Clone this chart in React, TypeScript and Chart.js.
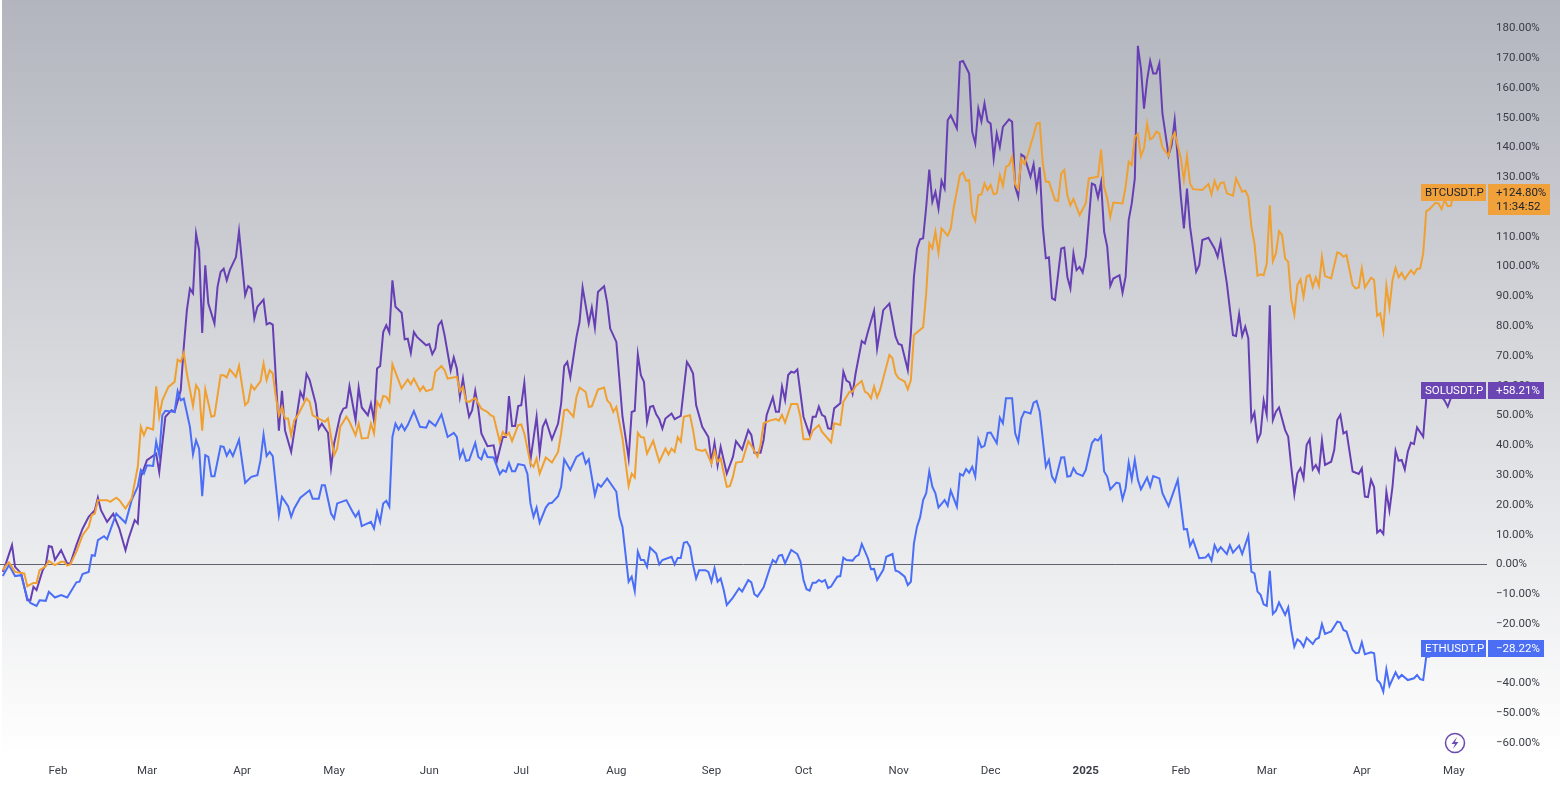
import { useEffect, useRef } from "react";
import { Chart, registerables } from "chart.js";

Chart.register(...registerables);

// days since the first candle (mid Jan 2024), percent change
const solPoints = [[0,-2.5],[1,0.3],[3,6.5],[4,-0.8],[6,-3],[7,-7.5],[8,-12],[9,-12],[10,-7.5],[11,-8.6],[13,-1.9],[14,-0.2],[15,6.2],[16,5.9],[17,1.5],[19,4.8],[21,0.3],[22,0.3],[24,6.5],[26,12],[27,14],[28,16],[30,18.2],[31,22.4],[32,18.2],[34,14.3],[36,17],[38,12],[40,4.8],[41,8.7],[43,14.9],[44,13.8],[45,29.4],[47,35],[50,37.2],[51,31],[52,40.6],[53,49.6],[55,51.8],[56,51.2],[58,58.5],[59,73],[60,85.3],[61,92.6],[62,91],[63,111],[64,105.5],[65,77.7],[66,100.4],[67,87.6],[69,80.9],[70,93.2],[71,98.2],[72,99.3],[73,95.4],[74,98.8],[76,103.2],[77,111.9],[79,90.4],[80,93.4],[81,92.6],[82,82.6],[83,86.5],[85,88.9],[86,80.6],[87,81.1],[88,80.5],[90,44.9],[91,58.3],[92,45],[94,37.8],[97,57.9],[98,55.7],[99,64],[100,62],[102,54],[103,45.6],[104,47.3],[106,44.2],[107,32.5],[108,40.6],[110,50.1],[111,52.3],[112,52.7],[113,59.8],[115,48.4],[116,59.4],[117,52.7],[119,50.1],[120,54],[121,48.4],[122,65.8],[123,66.6],[124,78],[125,80.3],[126,77.9],[127,95.4],[128,86.5],[130,84.5],[131,75.6],[132,75.8],[133,71],[134,78],[135,76.4],[138,73.6],[139,74],[140,70.6],[141,72.5],[142,80.3],[143,81.7],[144,77],[146,65.2],[147,69.5],[148,65.8],[149,56.3],[150,62.4],[151,55.1],[152,49.6],[153,51.8],[154,58.2],[155,52.3],[156,44],[158,39.7],[160,40],[161,34.5],[163,42.8],[164,42.8],[165,56.5],[166,46.5],[167,46.5],[168,53.2],[169,53.5],[170,61],[172,35],[174,49.6],[175,37.5],[176,46.2],[177,48.4],[179,42],[181,47.3],[182,54],[183,66.6],[184,68],[185,62.8],[187,76.4],[188,81.4],[189,93],[191,80.9],[192,86.2],[193,79.5],[194,91.5],[196,93.4],[197,88],[198,79.2],[200,74.7],[202,49.6],[204,35.6],[205,51.2],[206,51.6],[207,70.5],[208,63.5],[209,61.3],[210,47.9],[211,52.9],[212,53.2],[213,50.4],[214,48.8],[215,45.6],[216,49],[218,50.7],[219,48.8],[221,49.9],[223,68],[224,66.3],[225,64.1],[226,53.5],[228,46.2],[230,42.8],[231,34.5],[232,40.8],[233,33.3],[234,39.5],[236,30.5],[238,36.1],[239,41.4],[241,38.6],[243,45.1],[244,43.5],[245,37.5],[247,37.5],[248,41.8],[249,50.2],[251,56.1],[252,51.3],[253,51.3],[254,59.7],[255,55.2],[256,63.6],[257,64.7],[258,64.4],[259,65.5],[261,49.6],[263,43.5],[264,49.6],[265,49.6],[266,53],[267,50.2],[268,49.6],[269,45.7],[270,45.5],[271,52.4],[273,54.1],[274,64.7],[275,61.7],[276,61.1],[277,57.4],[278,64.2],[280,75],[281,74.2],[282,78.1],[284,85.2],[285,72.5],[287,85.4],[289,87.6],[291,76.5],[292,74],[293,73.7],[295,65.3],[296,77.6],[297,96.6],[298,106.1],[299,109.2],[300,109.5],[301,120],[302,132.6],[303,121.8],[304,125.1],[305,119.5],[306,128.8],[307,126.2],[308,149.1],[309,150.8],[311,146.4],[312,168.7],[313,169],[315,164.8],[316,145.2],[317,141.3],[318,153],[319,148.8],[320,154.8],[321,148.8],[322,148],[323,136.3],[324,144.7],[325,140.2],[326,146.9],[328,149.4],[329,148.6],[330,126.8],[331,123.4],[332,137.6],[333,136.9],[335,130.2],[336,134.4],[337,126.2],[338,133.3],[339,113.4],[340,102.8],[341,103.1],[342,89.3],[343,88.8],[345,106.1],[346,106.4],[347,96.6],[348,92.7],[349,104.4],[350,98.8],[351,99.9],[352,98],[353,103.3],[355,127.9],[356,127.4],[357,123.2],[358,128.2],[359,111.7],[360,106.7],[361,93.5],[362,96],[364,97.1],[365,91.2],[366,96.6],[367,115.6],[368,121.2],[369,129.6],[370,174.1],[371,166.5],[372,153],[373,162.6],[374,169],[375,164.8],[376,164.8],[377,168.2],[378,151.4],[380,137.4],[381,140.8],[382,149.2],[384,123.4],[385,112.8],[386,126.2],[387,113.4],[389,98.3],[390,100.5],[391,108.9],[393,109.7],[395,106.1],[396,103.3],[397,108.3],[398,101],[399,94.4],[401,77],[402,76.7],[403,84],[404,76.7],[405,79.8],[406,75.9],[407,48.5],[408,51],[409,41.6],[410,44],[411,55],[412,50.2],[413,87],[414,48.5],[415,51.3],[416,52.7],[418,45.1],[419,42.9],[420,32.8],[421,23.6],[422,30.6],[423,32.3],[424,28.9],[425,40.1],[426,42],[427,31.9],[428,33.4],[429,31.2],[430,41.6],[431,33.4],[433,34.5],[434,38.4],[435,48.5],[436,50.2],[437,44],[438,44.6],[440,31.2],[442,30.4],[443,32.3],[444,22.8],[445,22.6],[446,28.4],[447,25.9],[448,10.7],[449,11.6],[450,10.2],[451,24.4],[452,18.1],[453,26.1],[454,38.2],[455,34.8],[456,35.1],[457,31.9],[458,37.9],[459,40.9],[460,40.4],[461,46],[463,42.9],[464,55.7],[465,57],[467,58],[468,57.4],[470,55],[471,53],[472,55.8],[473,58.21]];

const btcPoints = [[0,-1.9],[1,-0.4],[2,0.7],[4,-2.5],[7,-3],[8,-7.3],[10,-6.2],[11,-6.2],[12,-1.9],[14,-0.6],[15,1.2],[17,-0.2],[19,0.9],[20,0.9],[21,-0.4],[22,0],[24,4.3],[26,9.8],[28,12.6],[29,16.6],[30,17.1],[31,21.6],[34,21.6],[35,21],[37,22.4],[38,21.6],[40,18.8],[42,22.1],[44,32.8],[45,46.2],[46,43.4],[47,46],[49,45.3],[50,59.8],[51,49.6],[52,55.1],[54,59.6],[56,61.3],[57,68.8],[58,68],[59,71],[60,64.1],[62,53.2],[63,60.2],[64,58.5],[65,44.9],[66,58.8],[68,49.6],[69,49.9],[71,63.5],[72,63.5],[73,62.8],[74,65.5],[76,63],[77,66.7],[79,53.5],[80,54.6],[81,60.2],[82,58.7],[84,61.5],[85,67.5],[86,61.9],[87,65.2],[88,64.1],[89,56.3],[90,50.1],[91,52.9],[92,49],[93,49],[94,43.4],[95,48.4],[96,49.8],[97,51.8],[99,55.7],[100,54.6],[101,50.1],[103,49],[105,47.9],[106,49],[108,36.7],[109,38.9],[110,46.2],[112,49.6],[113,47.9],[115,43.4],[116,47.3],[117,42.3],[119,42.5],[120,47.3],[121,44],[122,54.6],[123,52.9],[124,56.6],[125,56.3],[126,54.6],[127,67.2],[130,59.1],[132,62.1],[133,60.5],[134,62.4],[136,58.3],[137,59.8],[138,58.2],[140,58.8],[141,64.7],[143,66.6],[144,65.2],[145,62.4],[146,62.6],[148,63],[149,58.2],[150,59.6],[151,54.8],[152,54.6],[154,55.9],[156,52.3],[158,51.2],[159,50.1],[160,49.6],[162,41.2],[163,44.5],[164,43.2],[165,44.2],[166,41.4],[168,46.8],[169,47],[170,44],[172,33.9],[173,32.8],[174,35.6],[175,30.5],[177,35.9],[179,34.2],[181,37.8],[182,44],[183,51.8],[184,52],[186,49.6],[187,56.3],[188,59.4],[190,57.9],[191,52.9],[192,53.1],[194,58.7],[196,59.4],[197,55.1],[198,54],[199,51.2],[200,52.9],[202,42.3],[204,26.3],[205,30.5],[206,29.2],[207,44.2],[208,42.8],[209,42.6],[210,37.2],[212,41.5],[214,34.5],[216,38.9],[217,36.9],[218,38.9],[219,37.8],[220,42.8],[221,41.2],[222,49.6],[224,50.1],[225,45.1],[226,38.7],[228,38.1],[229,38.6],[231,33.9],[232,38.1],[233,34.5],[234,35.6],[236,26.1],[237,26.3],[238,29.4],[239,34.2],[241,34.5],[243,41.4],[244,39.9],[246,36.2],[247,40.1],[248,47.4],[250,48.3],[252,48.8],[253,48.3],[254,50.2],[255,47.6],[257,53.9],[259,53.9],[260,49.6],[261,42],[263,42],[264,44.9],[266,46.8],[267,44.6],[270,41],[271,47.4],[273,46.8],[274,54.6],[276,58],[277,58],[278,59.9],[280,61.6],[281,58],[282,57.4],[283,55.8],[284,59.7],[285,56.1],[286,58.6],[289,70.3],[290,69.2],[291,64.1],[292,62.5],[294,61.4],[295,58.8],[296,61.9],[297,77],[300,79.6],[301,91],[302,107.8],[303,106.1],[304,111.7],[305,104.6],[306,112.8],[308,110.4],[309,112.8],[310,120],[312,130.7],[313,131.6],[314,128.8],[315,129],[316,117.8],[317,115.4],[318,124],[319,124.2],[320,127.9],[321,125.7],[322,127.4],[323,124.3],[324,124.6],[325,130.7],[326,127.1],[327,133.5],[328,134.1],[329,136.9],[330,127.7],[331,126],[332,136.3],[333,134.4],[334,137.2],[336,144.1],[337,148],[338,148.3],[339,134.6],[340,128.5],[341,128.5],[343,122.3],[344,122],[345,131.3],[346,132.4],[347,124],[348,120.6],[349,122.7],[351,117.3],[353,121.2],[354,129.6],[357,130.2],[358,139.3],[359,126.8],[360,122.9],[361,116.7],[362,121.5],[365,121.2],[366,126.8],[367,135.2],[368,134.1],[369,143.6],[370,144.5],[371,137.1],[372,139.7],[373,148],[374,142.7],[375,143.4],[376,145.3],[377,144.7],[378,140],[380,137.1],[381,143],[382,144.9],[384,136.3],[385,129],[386,137.1],[387,127.9],[388,126],[391,125.7],[393,127.7],[394,124.2],[395,128.8],[396,125.9],[397,128.1],[398,128.3],[399,124.6],[401,123.8],[402,129.6],[404,125.1],[405,125.5],[406,123.4],[407,113.4],[408,107.8],[409,96.9],[410,97.4],[411,97.1],[412,101],[413,120.6],[414,101.8],[415,104.4],[416,111.9],[417,110.6],[418,102.7],[419,101.6],[420,88.8],[421,83.9],[422,93.8],[423,95.7],[424,89.9],[425,96.6],[426,97.2],[427,93.2],[428,96.4],[429,93.5],[430,103.3],[431,96.8],[433,96],[435,104.8],[436,104.4],[437,103.3],[438,103.9],[440,93.8],[441,92.7],[442,93],[443,99.4],[444,93],[446,96.3],[447,95.5],[448,83.5],[449,84.3],[450,78.5],[451,93.5],[452,86.2],[453,95.5],[454,99.6],[455,96.4],[456,97.9],[457,95.8],[459,98.8],[460,97.5],[461,99.2],[462,99.4],[463,104.4],[464,118.6],[465,119.2],[467,121.4],[468,121.2],[469,119.3],[470,122.3],[471,120.3],[472,120.4],[473,124.8]];

const ethPoints = [[0,-3.9],[2,-0.2],[4,-3.9],[6,-3.6],[8,-11.4],[9,-12.9],[11,-13.9],[12,-12],[14,-12.2],[15,-9.2],[17,-11.1],[19,-10.3],[21,-11.1],[24,-6],[25,-5.8],[26,-3.2],[28,-2.5],[29,3.1],[30,2.9],[31,8.2],[33,9.5],[34,8.5],[37,17.1],[38,16],[40,14],[42,21.6],[44,26.1],[45,31.7],[46,30.5],[47,33.3],[49,33.1],[50,41.2],[51,36.7],[52,50.1],[53,51.6],[56,51.2],[57,58.2],[58,55.1],[59,55.7],[61,46.2],[62,37],[63,41.7],[64,38.9],[65,22.9],[66,36.7],[67,36.1],[68,29.6],[69,29.6],[71,39.7],[72,39.5],[73,36.5],[74,38.4],[75,36.4],[77,41.9],[79,27.4],[81,29.4],[83,30],[84,35],[85,43.6],[86,36.4],[87,37.8],[88,36.4],[90,16.6],[91,22.7],[93,19.6],[94,16],[95,18.8],[97,22.4],[100,24.9],[101,22.1],[103,22.1],[104,26.6],[105,26.6],[107,17.1],[108,15.4],[109,20.5],[112,21.6],[114,17.7],[115,16],[116,17.7],[117,12.9],[120,14.3],[121,12.1],[122,17.7],[123,14.3],[124,20.5],[125,21.4],[126,19.4],[127,42.8],[128,47.3],[129,45.3],[130,47],[131,45.1],[132,46.8],[134,51.5],[136,46.2],[138,45.9],[139,48.2],[141,46.5],[143,50.4],[145,42.8],[147,44.2],[148,42.8],[149,35.9],[150,38.4],[151,34.8],[152,35],[154,40.8],[155,36.1],[156,35.3],[157,38.4],[158,36.1],[160,35.9],[162,30.3],[163,31.7],[164,31.1],[165,34.1],[166,31.3],[167,31.3],[168,33.7],[170,33.3],[171,30.5],[172,20.5],[173,16],[174,19.1],[175,14],[177,19.1],[178,20.5],[179,20.7],[181,22.9],[182,26.1],[183,35.3],[185,31.7],[187,36.1],[189,37.5],[190,33.9],[191,35.3],[193,23.3],[194,27],[195,26.1],[197,28.9],[200,24.4],[201,16],[202,12.6],[204,-5.8],[205,-4.1],[206,-8.9],[207,4.3],[208,1.5],[209,1.5],[210,-0.8],[211,5.7],[213,3.7],[214,0],[215,1.5],[218,2.6],[219,0],[220,2.2],[221,2.2],[222,7.3],[223,7.6],[224,5.9],[225,-0.2],[226,-4.7],[227,-1.9],[229,-1.9],[230,-2.5],[231,-5.8],[232,-1.3],[233,-5.8],[234,-4.7],[235,-8.6],[236,-13.6],[238,-11.1],[240,-8],[241,-9.1],[243,-5.2],[244,-6],[245,-10],[246,-10.8],[248,-7.7],[250,-1.3],[251,1.5],[252,0.6],[253,3],[254,3.2],[255,0.4],[257,4.9],[259,3.5],[260,1],[261,-5.2],[262,-8.3],[263,-8.8],[264,-6.1],[265,-6.1],[266,-5.2],[267,-5.8],[268,-5.2],[269,-7.9],[270,-7.4],[272,-4.1],[273,-3.9],[274,2.3],[275,1.5],[277,1.3],[278,2.6],[279,3.2],[280,6.9],[282,2.1],[283,-1.6],[284,-1.5],[285,-5.2],[287,-1.8],[288,2.6],[290,3.5],[291,-2.1],[292,-2.4],[294,-4.1],[295,-6.9],[296,-5.8],[297,7.1],[298,12.7],[299,15.8],[300,21.6],[301,23.9],[302,31.2],[303,26.1],[304,23.9],[305,19.1],[307,21.6],[308,19.7],[309,24.8],[311,19.4],[312,30.4],[313,29.8],[314,32],[315,30.8],[316,32.8],[317,29.5],[318,42],[319,39.3],[320,39.8],[321,44.2],[322,44.3],[324,40.7],[325,49.3],[326,47.4],[327,55.8],[329,55.8],[330,44],[331,41.2],[332,49],[333,51.3],[335,50.7],[336,54.3],[337,54.9],[338,51.3],[340,32.8],[341,35.1],[342,29.5],[343,27.8],[345,35.9],[346,36],[347,29.5],[348,29.7],[349,32.3],[350,30.6],[352,29.7],[353,31.7],[355,40.7],[356,42.1],[357,41.6],[358,43.1],[359,31.2],[360,29.5],[361,25.2],[363,27.5],[364,27.2],[365,21.9],[366,25.6],[367,34.2],[368,28.6],[369,35.1],[370,28.4],[371,25.2],[373,29.2],[374,26.1],[375,29.7],[377,28.9],[378,23.9],[380,19.6],[383,28.4],[385,11.8],[386,11.9],[387,6.2],[388,8.2],[390,2.1],[392,2.3],[393,3.4],[394,1.3],[395,6.5],[396,4.3],[397,5.8],[399,3.5],[400,6.5],[401,4],[403,6.3],[404,3.5],[406,9.7],[407,-2.4],[408,-3],[409,-9.1],[410,-10.2],[411,-13.4],[412,-13.9],[413,-2.1],[414,-16.6],[415,-15.5],[416,-12.8],[418,-16.9],[419,-14.4],[420,-22],[421,-27.6],[422,-25.1],[423,-25.9],[424,-27.6],[425,-24.6],[427,-26.7],[428,-25.1],[429,-24.6],[430,-20],[431,-23.3],[433,-22.5],[435,-19.2],[436,-19.5],[437,-22],[438,-22.5],[440,-28.7],[441,-29.8],[442,-29.6],[443,-26.1],[444,-30.1],[446,-29.5],[447,-29.8],[448,-38.8],[449,-39.9],[450,-42.7],[451,-35.2],[452,-40.8],[454,-36.2],[455,-38.2],[456,-37.1],[458,-38.8],[460,-38.2],[461,-37.1],[462,-38.5],[463,-38.8],[464,-30.9],[465,-31],[468,-29],[470,-29],[472,-29],[473,-28.22]];

const monthDays = [18, 47, 78, 108, 139, 169, 200, 231, 261, 292, 322, 353, 384, 412, 443, 473];
const monthLabels = ["Feb", "Mar", "Apr", "May", "Jun", "Jul", "Aug", "Sep", "Oct", "Nov", "Dec", "2025", "Feb", "Mar", "Apr", "May"];
const percentTicks = [-60, -50, -40, -30, -20, -10, 0, 10, 20, 30, 40, 50, 60, 70, 80, 90, 100, 110, 120, 130, 140, 150, 160, 170, 180];

const badgeNames = ["BTCUSDT.P", "SOLUSDT.P", "ETHUSDT.P"];
const badgeValues = [124.8, 58.21, -28.22];
const badgeColors = ["#f0a13a", "#6a45b3", "#4c6ef5"];
const badgeInk = ["#20242e", "#ffffff", "#ffffff"];
const countdown = "11:34:52";

const FONT = "Roboto, sans-serif";
const fmtPct = (v: number) => (v < 0 ? "\u2212" : "") + Math.abs(v).toFixed(2) + "%";
const toXY = (pts: number[][]) => pts.map(([x, y]) => ({ x, y }));

const backdrop = {
  id: "backdrop",
  beforeDraw(chart: any) {
    const { ctx, width, height } = chart;
    const g = ctx.createLinearGradient(0, 0, 0, 756);
    g.addColorStop(0, "#b2b5bd");
    g.addColorStop(1, "#ffffff");
    ctx.save();
    ctx.fillStyle = "#ffffff";
    ctx.fillRect(0, 0, width, height);
    ctx.fillStyle = g;
    ctx.fillRect(2, 0, width - 2, 756);
    ctx.restore();
  },
};

const badges = {
  id: "badges",
  afterDraw(chart: any) {
    const { ctx, scales } = chart;
    ctx.save();
    ctx.textBaseline = "middle";
    ctx.font = `11.5px ${FONT}`;
    badgeNames.forEach((name, i) => {
      const y = Math.round(scales.y.getPixelForValue(badgeValues[i]));
      const isBtc = i === 0;
      ctx.fillStyle = badgeColors[i];
      ctx.fillRect(1421, y - 9, 65, 17);
      ctx.fillRect(1488, y - 9, isBtc ? 62 : 56, isBtc ? 31 : 17);
      ctx.fillStyle = badgeInk[i];
      ctx.textAlign = "left";
      ctx.fillText(name, 1425, y);
      ctx.fillText((badgeValues[i] > 0 ? "+" : "") + fmtPct(badgeValues[i]), 1496, y);
      if (isBtc) ctx.fillText(countdown, 1496, y + 14);
    });
    // lightning badge, bottom right
    ctx.strokeStyle = "#6a4bb0";
    ctx.fillStyle = "#6a4bb0";
    ctx.lineWidth = 1.5;
    ctx.beginPath();
    ctx.arc(1455, 743, 9.5, 0, Math.PI * 2);
    ctx.stroke();
    ctx.beginPath();
    ctx.moveTo(1457, 737);
    ctx.lineTo(1451.5, 744);
    ctx.lineTo(1455, 744);
    ctx.lineTo(1453, 749);
    ctx.lineTo(1458.5, 742);
    ctx.lineTo(1455, 742);
    ctx.closePath();
    ctx.fill();
    ctx.restore();
  },
};

export default function App() {
  const ref = useRef<HTMLCanvasElement | null>(null);
  useEffect(() => {
    if (!ref.current) return;
    document.body.style.margin = "0";
    const line = (label: string, pts: number[][], color: string) => ({
      label,
      data: toXY(pts),
      borderColor: color,
      borderWidth: 2,
      pointRadius: 0,
      tension: 0,
      fill: false,
    });
    const ch = new Chart(ref.current, {
      type: "line",
      data: {
        datasets: [
          line("BTCUSDT.P", btcPoints, "#f0a030"),
          line("ETHUSDT.P", ethPoints, "#4a6ef8"),
          line("SOLUSDT.P", solPoints, "#673fb5"),
        ],
      },
      options: {
        responsive: false,
        animation: false,
        devicePixelRatio: 1,
        layout: { padding: 0 },
        plugins: { legend: { display: false }, tooltip: { enabled: false } },
        scales: {
          x: {
            type: "linear",
            min: -0.91,
            max: 483.8,
            afterFit(s: any) {
              s.height = 30;
              s.paddingLeft = 0;
              s.paddingRight = 0;
            },
            afterBuildTicks(s: any) {
              s.ticks = monthDays.map((value) => ({ value }));
            },
            border: { display: false },
            grid: { display: false, drawTicks: false },
            ticks: {
              autoSkip: false,
              maxRotation: 0,
              padding: 8,
              color: "#3a3d46",
              font: (c: any) => ({ family: FONT, size: 11.5, weight: monthLabels[c.index] === "2025" ? "bold" : "normal" }),
              callback: (_v: any, i: number) => monthLabels[i],
            },
          },
          y: {
            type: "linear",
            position: "right",
            min: -64.3,
            max: 189.5,
            afterFit(s: any) {
              s.width = 73;
              s.paddingTop = 0;
              s.paddingBottom = 0;
            },
            afterBuildTicks(s: any) {
              s.ticks = percentTicks.map((value) => ({ value }));
            },
            border: { display: false },
            grid: {
              drawTicks: false,
              color: (c: any) => (c.tick && c.tick.value === 0 ? "#5f626c" : "transparent"),
            },
            ticks: {
              autoSkip: false,
              padding: 9,
              color: "#3a3d46",
              font: { family: FONT, size: 11.5 },
              callback: (v: any) => fmtPct(Number(v)),
            },
          },
        },
      },
      plugins: [backdrop, badges],
    } as any);
    return () => ch.destroy();
  }, []);
  return <canvas ref={ref} width={1560} height={786} style={{ display: "block" }}></canvas>;
}
